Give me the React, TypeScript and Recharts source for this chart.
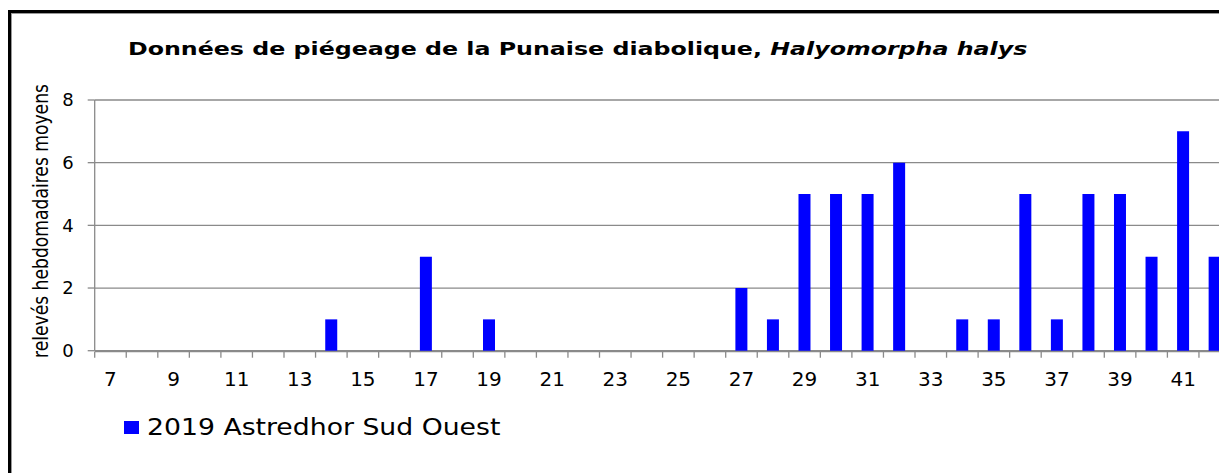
import React from "react";
import {
    BarChart,
    Bar,
    XAxis,
    YAxis,
    CartesianGrid,
    Legend,
} from "recharts";

// semaines 7 -> 42
const weeks = [
    7, 8, 9, 10, 11, 12, 13, 14, 15, 16, 17, 18, 19, 20, 21, 22, 23, 24,
    25, 26, 27, 28, 29, 30, 31, 32, 33, 34, 35, 36, 37, 38, 39, 40, 41, 42,
];
const releves2019 = [
    0, 0, 0, 0, 0, 0, 0, 1, 0, 0, 3, 0, 1, 0, 0, 0, 0, 0,
    0, 0, 2, 1, 5, 5, 5, 6, 0, 1, 1, 5, 1, 5, 5, 3, 7, 3,
];
const yTicks = [0, 2, 4, 6, 8];
const seriesName = "2019 Astredhor Sud Ouest";
const titleText = "Données de piégeage de la Punaise diabolique, ";
const titleItalic = "Halyomorpha halys";
const yLabel = "relevés hebdomadaires moyens";

const data = weeks.map((w, i) => ({ week: w, value: releves2019[i] }));
// tick marks sit between the weeks, like the spreadsheet axis
const boundaryTicks = weeks.map((w) => w - 0.5);

const GRAY = "#8a8a8a";
const BLUE = "#0000ff";
const FONT = "'DejaVu Sans', Verdana, sans-serif";

function LegendBox() {
    return (
        <div style={{ display: "flex", alignItems: "center", fontFamily: FONT, fontSize: 23, color: "#000" }}>
            <span style={{ width: 15, height: 13, background: BLUE, marginRight: 8, display: "inline-block" }} />
            <span style={{ display: "inline-block", transform: "scaleX(1.16)", transformOrigin: "left center", whiteSpace: "nowrap" }}>
                {seriesName}
            </span>
        </div>
    );
}

function WeekTick(props: any) {
    const { x, y, payload } = props;
    return (
        <text x={x} y={y} dy={35.5} textAnchor="middle" fill="#000" fontSize={20} fontFamily={FONT}>
            {payload.value}
        </text>
    );
}

export default function App() {
    return (
        <div style={{ position: "relative", width: 1219, height: 465, overflow: "hidden" }}>
            {/* cadre du graphique (coupé à droite et en bas) */}
            <div
                style={{
                    position: "absolute",
                    left: 0,
                    top: 2,
                    width: 1260,
                    height: 500,
                    border: "3px solid #000",
                    boxShadow: "inset 1px 1px 0 #999",
                }}
            />
            <div
                style={{
                    position: "absolute",
                    left: 120,
                    top: 31.5,
                    fontFamily: FONT,
                    fontWeight: "bold",
                    fontSize: 18,
                    lineHeight: "18px",
                    whiteSpace: "nowrap",
                    color: "#000",
                    transform: "scaleX(1.317)",
                    transformOrigin: "left top",
                }}
            >
                {titleText}
                <i>{titleItalic}</i>
            </div>
            <div style={{ position: "absolute", left: -8, top: -8 }}>
                <BarChart
                    width={1260}
                    height={473}
                    data={data}
                    margin={{ top: 100, right: 29.5, left: 0, bottom: 120.3 }}
                    barCategoryGap="30.7%"
                >
                    <CartesianGrid vertical={false} stroke={GRAY} strokeWidth={1.3} />
                    <XAxis
                        xAxisId="bounds"
                        dataKey="week"
                        type="number"
                        domain={[6.5, 42.5]}
                        allowDataOverflow
                        ticks={boundaryTicks}
                        interval={0}
                        height={1}
                        tick={() => <g />}
                        tickSize={6}
                        tickLine={{ stroke: GRAY, strokeWidth: 1.3 }}
                        axisLine={{ stroke: GRAY, strokeWidth: 1.3 }}
                    />
                    <XAxis
                        dataKey="week"
                        interval={1}
                        height={1}
                        tickSize={0}
                        tickMargin={0}
                        tickLine={false}
                        axisLine={false}
                        tick={<WeekTick />}
                    />
                    <YAxis
                        width={94.7}
                        domain={[0, 8]}
                        ticks={yTicks}
                        interval={0}
                        tickSize={7}
                        tickMargin={14}
                        tickLine={{ stroke: GRAY, strokeWidth: 1.3 }}
                        axisLine={{ stroke: GRAY, strokeWidth: 1.3 }}
                        tick={{ fill: "#000", fontSize: 18, fontFamily: FONT }}
                        label={{
                            content: () => (
                                <text
                                    x={40}
                                    y={221}
                                    transform="rotate(-90, 40, 221)"
                                    textAnchor="middle"
                                    dominantBaseline="central"
                                    fontFamily="'Liberation Sans Narrow', 'DejaVu Sans Condensed', sans-serif"
                                    fontSize={22}
                                    textLength={274}
                                    lengthAdjust="spacingAndGlyphs"
                                    fill="#000"
                                >
                                    {yLabel}
                                </text>
                            ),
                        }}
                    />
                    <Legend
                        layout="horizontal"
                        verticalAlign="middle"
                        align="center"
                        wrapperStyle={{ left: 124, top: 414, width: "auto" }}
                        content={() => <LegendBox />}
                    />
                    <Bar dataKey="value" name={seriesName} fill={BLUE} isAnimationActive={false} />
                </BarChart>
            </div>
        </div>
    );
}
